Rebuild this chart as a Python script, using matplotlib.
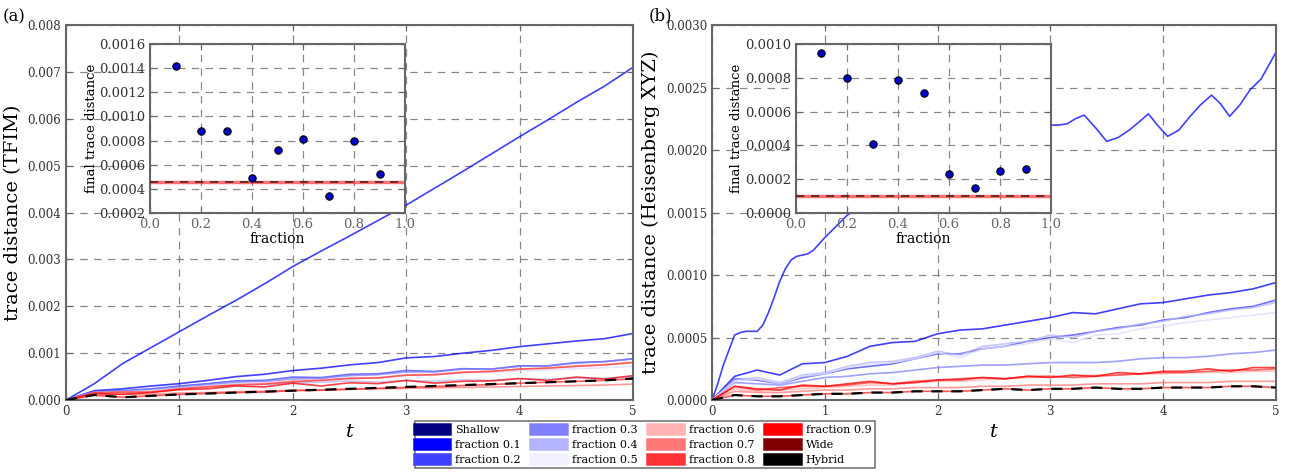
import matplotlib
matplotlib.use("Agg")
import matplotlib.pyplot as plt
from matplotlib.lines import Line2D
from matplotlib.ticker import FormatStrFormatter, MultipleLocator
import numpy as np

plt.rcParams['font.family'] = ['DejaVu Serif']
plt.rcParams['mathtext.fontset'] = 'dejavuserif'

names = ['Shallow', 'fraction 0.1', 'fraction 0.2', 'fraction 0.3', 'fraction 0.4',
         'fraction 0.5', 'fraction 0.6', 'fraction 0.7', 'fraction 0.8', 'fraction 0.9',
         'Wide', 'Hybrid']
legend_colors = ['#000080', '#0000ff', '#4040ff', '#8080ff', '#b3b3ff', '#f0f0ff',
                 '#ffb3b3', '#ff7777', '#ff3333', '#ff0000', '#800000', 'black']
line_colors = ['#0000ff', '#0000ff', '#4040ff', '#8080ff', '#b3b3ff', '#dcdcff',
               '#ffb3b3', '#ff7777', '#ff3333', '#ff0000', '#ff2020', 'black']

# ---- panel (a): TFIM ----
t_a = [0, .25, .5, .75, 1, 1.25, 1.5, 1.75, 2, 2.25, 2.5, 2.75, 3, 3.25, 3.5,
       3.75, 4, 4.25, 4.5, 4.75, 5]
tfim = {
    'Shallow': [0, 0.00035, 0.00078, 0.00112, 0.00146, 0.00180, 0.00213, 0.00248, 0.00285,
                0.00318, 0.00350, 0.00383, 0.00416, 0.00452, 0.00488, 0.00525, 0.00562,
                0.00598, 0.00635, 0.00670, 0.00710],
    'fraction 0.1': [0, 0.00020, 0.00024, 0.00030, 0.00035, 0.00042, 0.00050, 0.00055, 0.00063,
                     0.00068, 0.00075, 0.00080, 0.00090, 0.00093, 0.00100, 0.00106, 0.00114,
                     0.00120, 0.00126, 0.00131, 0.00142],
    'fraction 0.2': [0, 0.00018, 0.00020, 0.00024, 0.00030, 0.00035, 0.00041, 0.00042, 0.00049,
                     0.00048, 0.00055, 0.00056, 0.00063, 0.00061, 0.00067, 0.00066, 0.00073,
                     0.00073, 0.00080, 0.00082, 0.00088],
    'fraction 0.3': [0, 0.00016, 0.00019, 0.00022, 0.00027, 0.00032, 0.00038, 0.00040, 0.00045,
                     0.00046, 0.00052, 0.00054, 0.00060, 0.00060, 0.00066, 0.00066, 0.00072,
                     0.00073, 0.00079, 0.00082, 0.00088],
    'fraction 0.4': [0, 0.00017, 0.00018, 0.00020, 0.00024, 0.00030, 0.00034, 0.00033, 0.00036,
                     0.00038, 0.00041, 0.00038, 0.00042, 0.00040, 0.00043, 0.00042, 0.00045,
                     0.00044, 0.00047, 0.00046, 0.00049],
    'fraction 0.5': [0, 0.00015, 0.00016, 0.00020, 0.00025, 0.00030, 0.00035, 0.00036, 0.00040,
                     0.00042, 0.00046, 0.00048, 0.00052, 0.00054, 0.00058, 0.00059, 0.00062,
                     0.00064, 0.00067, 0.00069, 0.00072],
    'fraction 0.6': [0, 0.00014, 0.00017, 0.00018, 0.00024, 0.00030, 0.00033, 0.00036, 0.00041,
                     0.00043, 0.00047, 0.00048, 0.00054, 0.00055, 0.00060, 0.00062, 0.00066,
                     0.00069, 0.00073, 0.00076, 0.00081],
    'fraction 0.7': [0, 0.00012, 0.00013, 0.00012, 0.00015, 0.00016, 0.00018, 0.00019, 0.00021,
                     0.00022, 0.00023, 0.00024, 0.00025, 0.00026, 0.00027, 0.00028, 0.00029,
                     0.00030, 0.00031, 0.00032, 0.00034],
    'fraction 0.8': [0, 0.00016, 0.00017, 0.00017, 0.00024, 0.00028, 0.00032, 0.00034, 0.00039,
                     0.00042, 0.00046, 0.00047, 0.00053, 0.00054, 0.00059, 0.00061, 0.00066,
                     0.00068, 0.00072, 0.00075, 0.00080],
    'fraction 0.9': [0, 0.00014, 0.00012, 0.00016, 0.00022, 0.00024, 0.00030, 0.00028, 0.00036,
                     0.00030, 0.00037, 0.00035, 0.00042, 0.00036, 0.00040, 0.00041, 0.00046,
                     0.00042, 0.00049, 0.00045, 0.00052],
    'Wide': [0, 0.00010, 0.00006, 0.00009, 0.00012, 0.00014, 0.00016, 0.00017, 0.00020,
             0.00021, 0.00023, 0.00025, 0.00027, 0.00029, 0.00031, 0.00033, 0.00036,
             0.00038, 0.00040, 0.00042, 0.00045],
    'Hybrid': [0, 0.00011, 0.00006, 0.00009, 0.00012, 0.00014, 0.00016, 0.00018, 0.00020,
               0.00022, 0.00024, 0.00026, 0.00028, 0.00030, 0.00032, 0.00034, 0.00036,
               0.00038, 0.00040, 0.00042, 0.00046],
}

# ---- panel (b): Heisenberg XYZ ----
t_b_shallow = [0, 0.05, 0.1, 0.15, 0.2, 0.25, 0.3, 0.35, 0.4, 0.45, 0.5, 0.55, 0.6, 0.65,
               0.7, 0.75, 0.8, 0.85, 0.9, 0.95, 1.0, 1.1, 1.2, 1.6, 2.0, 2.5,
               3.0, 3.07, 3.15, 3.22, 3.3, 3.4, 3.5, 3.6, 3.7, 3.78, 3.87, 3.95, 4.04,
               4.14, 4.24, 4.33, 4.43, 4.51, 4.59, 4.68, 4.77, 4.87, 5.0]
xyz_shallow = [0, 0.00013, 0.00028, 0.00040, 0.00052, 0.00054, 0.00055, 0.00055, 0.00055,
               0.00060, 0.00070, 0.00082, 0.00095, 0.00105, 0.00112, 0.00115, 0.00116,
               0.00117, 0.00120, 0.00125, 0.00130, 0.00139, 0.00148, 0.00170, 0.00190,
               0.00205, 0.00220, 0.00220, 0.00221, 0.00225, 0.00228, 0.00218, 0.00207,
               0.00210, 0.00216, 0.00222, 0.00229, 0.00220, 0.00211, 0.00216, 0.00227,
               0.00236, 0.00244, 0.00237, 0.00227, 0.00236, 0.00248, 0.00257, 0.00278]
t_b = [0, .2, .4, .6, .8, 1, 1.2, 1.4, 1.6, 1.8, 2, 2.2, 2.4, 2.6, 2.8, 3, 3.2, 3.4, 3.6,
       3.8, 4, 4.2, 4.4, 4.6, 4.8, 5]
xyz = {
    'fraction 0.1': [0, 0.00019, 0.00024, 0.00020, 0.00029, 0.00030, 0.00035, 0.00043, 0.00046,
                     0.00047, 0.00053, 0.00056, 0.00057, 0.00060, 0.00063, 0.00066, 0.00070,
                     0.00069, 0.00073, 0.00077, 0.00078, 0.00081, 0.00084, 0.00086, 0.00089,
                     0.00094],
    'fraction 0.2': [0, 0.00017, 0.00016, 0.00013, 0.00018, 0.00021, 0.00025, 0.00027, 0.00029,
                     0.00033, 0.00037, 0.00037, 0.00041, 0.00043, 0.00047, 0.00050, 0.00052,
                     0.00055, 0.00058, 0.00060, 0.00064, 0.00066, 0.00070, 0.00073, 0.00075,
                     0.00080],
    'fraction 0.3': [0, 0.00014, 0.00013, 0.00012, 0.00015, 0.00018, 0.00019, 0.00021, 0.00022,
                     0.00024, 0.00026, 0.00027, 0.00028, 0.00028, 0.00029, 0.00030, 0.00030,
                     0.00030, 0.00031, 0.00033, 0.00034, 0.00034, 0.00035, 0.00037, 0.00038,
                     0.00040],
    'fraction 0.4': [0, 0.00016, 0.00018, 0.00014, 0.00020, 0.00022, 0.00027, 0.00030, 0.00031,
                     0.00034, 0.00039, 0.00036, 0.00043, 0.00045, 0.00047, 0.00052, 0.00050,
                     0.00055, 0.00057, 0.00061, 0.00063, 0.00067, 0.00069, 0.00072, 0.00074,
                     0.00078],
    'fraction 0.5': [0, 0.00015, 0.00017, 0.00013, 0.00019, 0.00021, 0.00026, 0.00029, 0.00030,
                     0.00033, 0.00038, 0.00034, 0.00041, 0.00043, 0.00045, 0.00049, 0.00046,
                     0.00052, 0.00053, 0.00057, 0.00059, 0.00062, 0.00064, 0.00066, 0.00068,
                     0.00070],
    'fraction 0.6': [0, 0.00009, 0.00007, 0.00008, 0.00009, 0.00010, 0.00011, 0.00012, 0.00012,
                     0.00014, 0.00015, 0.00015, 0.00016, 0.00017, 0.00018, 0.00019, 0.00019,
                     0.00020, 0.00020, 0.00021, 0.00021, 0.00022, 0.00022, 0.00022, 0.00023,
                     0.00023],
    'fraction 0.7': [0, 0.00007, 0.00006, 0.00006, 0.00007, 0.00008, 0.00008, 0.00009, 0.00009,
                     0.00010, 0.00010, 0.00010, 0.00011, 0.00011, 0.00012, 0.00012, 0.00012,
                     0.00013, 0.00013, 0.00013, 0.00014, 0.00014, 0.00014, 0.00015, 0.00015,
                     0.00015],
    'fraction 0.8': [0, 0.00011, 0.00008, 0.00010, 0.00011, 0.00011, 0.00012, 0.00014, 0.00013,
                     0.00015, 0.00016, 0.00016, 0.00018, 0.00017, 0.00019, 0.00019, 0.00018,
                     0.00019, 0.00020, 0.00021, 0.00022, 0.00022, 0.00023, 0.00024, 0.00024,
                     0.00025],
    'fraction 0.9': [0, 0.00011, 0.00009, 0.00008, 0.00012, 0.00011, 0.00013, 0.00015, 0.00013,
                     0.00014, 0.00016, 0.00017, 0.00018, 0.00017, 0.00019, 0.00018, 0.00020,
                     0.00019, 0.00022, 0.00021, 0.00023, 0.00023, 0.00025, 0.00023, 0.00026,
                     0.00026],
    'Wide': [0, 0.00004, 0.00003, 0.00003, 0.00004, 0.00005, 0.00005, 0.00006, 0.00006, 0.00007,
             0.00007, 0.00007, 0.00008, 0.00009, 0.00008, 0.00009, 0.00009, 0.00010, 0.00009,
             0.00009, 0.00010, 0.00010, 0.00010, 0.00011, 0.00011, 0.00010],
    'Hybrid': [0, 0.00004, 0.00003, 0.00003, 0.00004, 0.00005, 0.00005, 0.00006, 0.00006, 0.00007,
               0.00007, 0.00007, 0.00008, 0.00009, 0.00008, 0.00009, 0.00009, 0.00010, 0.00009,
               0.00009, 0.00010, 0.00010, 0.00010, 0.00011, 0.00011, 0.00010],
}

# ---- insets: final trace distance vs fraction ----
fractions = [0.1, 0.2, 0.3, 0.4, 0.5, 0.6, 0.7, 0.8, 0.9]
final_tfim = [0.00142, 0.00088, 0.00088, 0.00049, 0.00072, 0.00081, 0.00034, 0.00080, 0.00052]
final_tfim_ref = 0.000455
final_xyz = [0.00095, 0.00080, 0.00041, 0.00079, 0.00071, 0.00023, 0.00015, 0.00025, 0.00026]
final_xyz_ref = 0.000100

spine_col = '#666666'
tick_col = '#333333'


def style_axes(ax, fs):
    for s in ax.spines.values():
        s.set_color(spine_col)
        s.set_linewidth(1.5)
    ax.tick_params(direction='in', top=True, right=True, labelsize=fs,
                   labelcolor=tick_col, color=spine_col, length=4)
    ax.grid(True, linestyle=(0, (6, 5)), color='#888888', linewidth=0.9)
    ax.set_axisbelow(True)


fig = plt.figure(figsize=(12.9, 4.74), dpi=100)
ax_a = fig.add_axes([0.0512, 0.156, 0.4395, 0.791])
ax_b = fig.add_axes([0.552, 0.156, 0.437, 0.791])

for nm, c in zip(names, line_colors):
    if nm == 'Hybrid':
        ax_a.plot(t_a, tfim[nm], color='black', lw=1.6, ls=(0, (5, 4)), zorder=3)
    else:
        ax_a.plot(t_a, tfim[nm], color=c, lw=1.2, alpha=0.75, zorder=2)
ax_b.plot(t_b_shallow, xyz_shallow, color=line_colors[0], lw=1.2, alpha=0.75, zorder=2)
for nm, c in zip(names[1:], line_colors[1:]):
    if nm == 'Hybrid':
        ax_b.plot(t_b, xyz[nm], color='black', lw=1.6, ls=(0, (5, 4)), zorder=3)
    else:
        ax_b.plot(t_b, xyz[nm], color=c, lw=1.2, alpha=0.75, zorder=2)

ax_a.set_xlim(0, 5)
ax_a.set_ylim(0, 0.008)
ax_a.yaxis.set_major_locator(MultipleLocator(0.001))
ax_a.yaxis.set_major_formatter(FormatStrFormatter('%.3f'))
ax_a.set_ylabel('trace distance (TFIM)', fontsize=14)
ax_b.set_xlim(0, 5)
ax_b.set_ylim(0, 0.003)
ax_b.yaxis.set_major_locator(MultipleLocator(0.0005))
ax_b.yaxis.set_major_formatter(FormatStrFormatter('%.4f'))
ax_b.set_ylabel('trace distance (Heisenberg XYZ)', fontsize=14)
for ax in (ax_a, ax_b):
    ax.xaxis.set_major_locator(MultipleLocator(1))
    ax.set_xlabel('$t$', fontsize=14)
    style_axes(ax, 8.5)

fig.text(0.002, 0.955, '(a)', fontsize=12)
fig.text(0.503, 0.958, '(b)', fontsize=12)

# insets
in_a = fig.add_axes([0.1163, 0.551, 0.1977, 0.356])
in_b = fig.add_axes([0.617, 0.551, 0.198, 0.356])
for ins, vals, ref, lo, hi in ((in_a, final_tfim, final_tfim_ref, 0.0002, 0.0016),
                               (in_b, final_xyz, final_xyz_ref, 0.0, 0.0010)):
    ins.set_facecolor('white')
    ins.axhline(ref, color='#ff3333', alpha=0.7, lw=2.5, zorder=2)
    ins.axhline(ref, color='black', alpha=0.7, lw=1.2, ls=(0, (5, 4)), zorder=3)
    ins.scatter(fractions, vals, s=28, color='#0000cc', edgecolors='black',
                linewidths=0.8, zorder=4)
    ins.set_xlim(0, 1)
    ins.set_ylim(lo, hi)
    ins.xaxis.set_major_locator(MultipleLocator(0.2))
    ins.xaxis.set_major_formatter(FormatStrFormatter('%.1f'))
    ins.yaxis.set_major_locator(MultipleLocator(0.0002))
    ins.yaxis.set_major_formatter(FormatStrFormatter('%.4f'))
    ins.set_xlabel('fraction', fontsize=10, labelpad=1)
    ins.set_ylabel('final trace distance', fontsize=9.5, labelpad=1)
    style_axes(ins, 9.5)
    ins.tick_params(axis='x', labelcolor='#666666')

handles = [Line2D([], [], color=c, lw=9) for c in legend_colors]
leg = fig.legend(handles, names, loc='lower center', bbox_to_anchor=(0.5, 0.0),
                 ncol=4, fontsize=8, frameon=True, fancybox=False, handlelength=2.4,
                 columnspacing=1.3, handletextpad=0.9, labelspacing=0.45,
                 borderpad=0.35)
leg.get_frame().set_edgecolor('#555555')
leg.get_frame().set_linewidth(1.2)

fig.savefig('out.png', dpi=100)
